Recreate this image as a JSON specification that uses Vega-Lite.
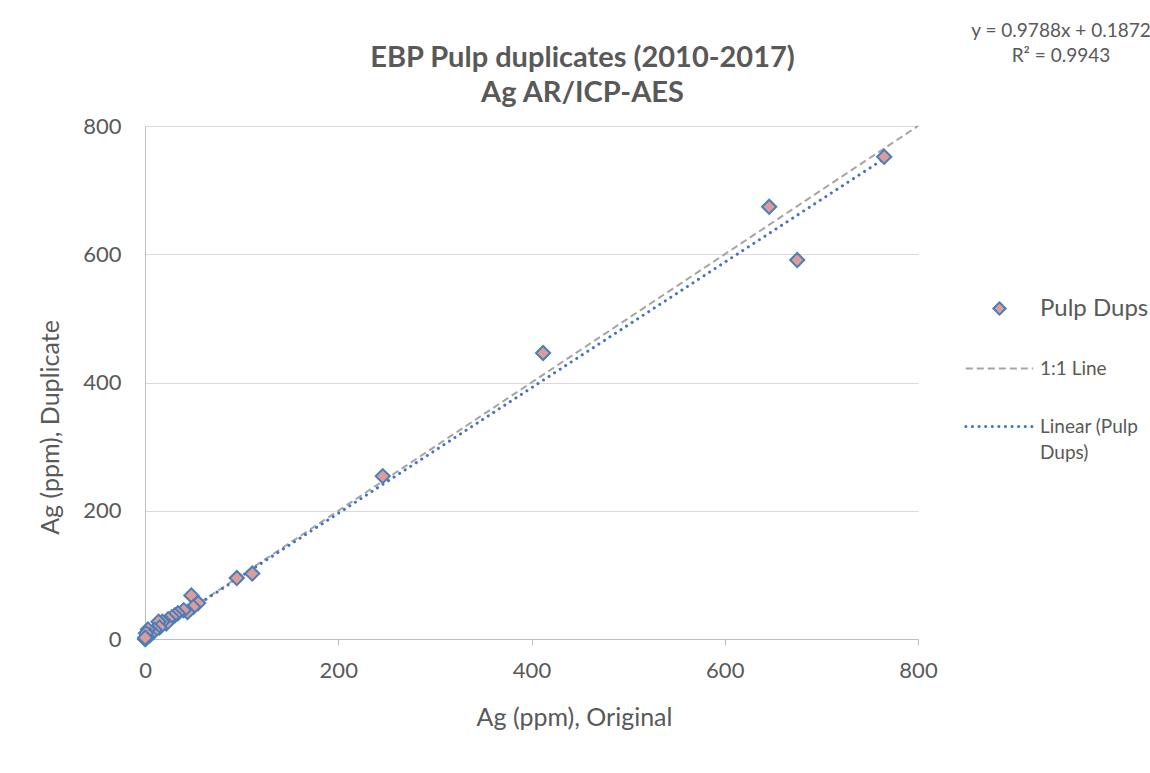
{
  "$schema": "https://vega.github.io/schema/vega-lite/v6.json",
  "width": 773,
  "height": 513,
  "autosize": {"type": "none"},
  "padding": {"left": 145, "top": 126, "right": 232, "bottom": 134},
  "background": "white",
  "title": {
    "text": ["EBP Pulp duplicates (2010-2017)", "Ag AR/ICP-AES"],
    "anchor": "middle",
    "dx": 51,
    "offset": -86,
    "fontSize": 29,
    "font": "Lato",
    "fontWeight": "bold",
    "color": "#595959",
    "lineHeight": 35
  },
  "datasets": {
    "dups": [
      {"orig": 765, "dup": 752, "series": "Pulp Dups"},
      {"orig": 646, "dup": 674, "series": "Pulp Dups"},
      {"orig": 675, "dup": 591, "series": "Pulp Dups"},
      {"orig": 412, "dup": 446, "series": "Pulp Dups"},
      {"orig": 246, "dup": 254, "series": "Pulp Dups"},
      {"orig": 111, "dup": 102, "series": "Pulp Dups"},
      {"orig": 95, "dup": 95, "series": "Pulp Dups"},
      {"orig": 48, "dup": 68, "series": "Pulp Dups"},
      {"orig": 55, "dup": 56, "series": "Pulp Dups"},
      {"orig": 50, "dup": 50, "series": "Pulp Dups"},
      {"orig": 44, "dup": 42, "series": "Pulp Dups"},
      {"orig": 40, "dup": 45, "series": "Pulp Dups"},
      {"orig": 34, "dup": 40, "series": "Pulp Dups"},
      {"orig": 31, "dup": 37, "series": "Pulp Dups"},
      {"orig": 28, "dup": 34, "series": "Pulp Dups"},
      {"orig": 24, "dup": 31, "series": "Pulp Dups"},
      {"orig": 22, "dup": 24, "series": "Pulp Dups"},
      {"orig": 18, "dup": 27, "series": "Pulp Dups"},
      {"orig": 14, "dup": 27, "series": "Pulp Dups"},
      {"orig": 15, "dup": 18, "series": "Pulp Dups"},
      {"orig": 10, "dup": 14, "series": "Pulp Dups"},
      {"orig": 8, "dup": 10, "series": "Pulp Dups"},
      {"orig": 3, "dup": 15, "series": "Pulp Dups"},
      {"orig": 5, "dup": 6, "series": "Pulp Dups"},
      {"orig": 2, "dup": 3, "series": "Pulp Dups"},
      {"orig": 1, "dup": 9, "series": "Pulp Dups"},
      {"orig": 0.5, "dup": 0.5, "series": "Pulp Dups"},
      {"orig": 0, "dup": 0, "series": "Pulp Dups"},
      {"orig": 1, "dup": 1, "series": "Pulp Dups"},
      {"orig": 0.2, "dup": 2, "series": "Pulp Dups"}
    ],
    "oneToOne": [
      {"orig": 0, "dup": 0, "series": "1:1 Line"},
      {"orig": 800, "dup": 800, "series": "1:1 Line"}
    ],
    "trend": [
      {"orig": 0, "dup": 0.19, "series": "Linear (Pulp Dups)"},
      {"orig": 765, "dup": 749, "series": "Linear (Pulp Dups)"}
    ],
    "label": [
      {"orig": 948, "dup": 939, "text": "y = 0.9788x + 0.1872"}
    ]
  },
  "encoding": {
    "x": {
      "field": "orig",
      "type": "quantitative",
      "scale": {"domain": [0, 800], "nice": false, "zero": false},
      "axis": {
        "title": "Ag (ppm), Original",
        "values": [0, 200, 400, 600, 800],
        "grid": false,
        "labelFlush": false,
        "domainColor": "#BFBFBF",
        "tickColor": "#BFBFBF",
        "tickSize": 6,
        "labelPadding": 15,
        "titleX": 429,
        "titleY": 66,
        "titleBaseline": "top"
      }
    },
    "y": {
      "field": "dup",
      "type": "quantitative",
      "scale": {"domain": [0, 800], "nice": false, "zero": false},
      "axis": {
        "title": "Ag (ppm), Duplicate",
        "values": [0, 200, 400, 600, 800],
        "grid": true,
        "labelFlush": false,
        "gridColor": "#D9D9D9",
        "gridWidth": 1,
        "domainColor": "#BFBFBF",
        "ticks": false,
        "tickSize": 0,
        "labelPadding": 24,
        "titleX": -82,
        "titleY": 301,
        "titleBaseline": "bottom"
      }
    },
    "color": {
      "field": "series",
      "type": "nominal",
      "scale": {
        "domain": ["Pulp Dups", "1:1 Line", "Linear (Pulp Dups)"],
        "range": ["#4A7EBB", "#A5A5A5", "#4472C4"]
      },
      "legend": {
        "title": null,
        "orient": "none",
        "legendX": 845,
        "legendY": 173,
        "padding": 0,
        "symbolSize": 150,
        "labelOffset": 31,
        "rowPadding": 38,
        "labelLimit": 300,
        "labelExpr": "datum.label == 'Linear (Pulp Dups)' ? ['Linear (Pulp', 'Dups)'] : datum.label",
        "encode": {
          "symbols": {
            "update": {
              "shape": {"signal": "datum.value === 'Pulp Dups' ? 'diamond' : 'M-5.5,0H5.5'"},
              "size": {"value": 150},
              "fill": {"signal": "datum.value === 'Pulp Dups' ? '#DD9B99' : 'transparent'"},
              "stroke": {"signal": "datum.value === 'Pulp Dups' ? '#4A7EBB' : (datum.value === '1:1 Line' ? '#A5A5A5' : '#4472C4')"},
              "strokeWidth": {"signal": "datum.value === 'Pulp Dups' ? 2 : (datum.value === '1:1 Line' ? 2 : 3)"},
              "strokeDash": {"signal": "datum.value === '1:1 Line' ? [7, 4] : (datum.value === 'Linear (Pulp Dups)' ? [0.1, 6.5] : [])"},
              "strokeCap": {"signal": "datum.value === 'Linear (Pulp Dups)' ? 'round' : 'butt'"},
              "opacity": {"value": 1}
            }
          },
          "labels": {
            "update": {
              "fontSize": {"signal": "datum.value === 'Pulp Dups' ? 24 : 19"},
              "lineHeight": {"value": 26}
            }
          }
        }
      }
    }
  },
  "layer": [
    {
      "data": {"name": "oneToOne"},
      "mark": {"type": "line", "strokeDash": [7, 4], "strokeWidth": 2, "clip": false}
    },
    {
      "data": {"name": "trend"},
      "mark": {"type": "line", "strokeDash": [0.1, 6.5], "strokeCap": "round", "strokeWidth": 3}
    },
    {
      "data": {"name": "dups"},
      "mark": {
        "type": "point",
        "shape": "diamond",
        "size": 200,
        "filled": false,
        "fill": "#DD9B99",
        "strokeWidth": 2,
        "opacity": 1
      }
    },
    {
      "data": {"name": "label"},
      "mark": {
        "type": "text",
        "text": ["y = 0.9788x + 0.1872", "R² = 0.9943"],
        "font": "Lato",
        "fontSize": 19,
        "align": "center",
        "baseline": "alphabetic",
        "lineHeight": 25
      },
      "encoding": {
        "color": {"value": "#595959"}
      }
    }
  ],
  "config": {
    "font": "Lato",
    "view": {"stroke": null},
    "axis": {
      "labelFont": "Lato",
      "labelFontSize": 22,
      "labelColor": "#595959",
      "titleFont": "Lato",
      "titleFontSize": 25,
      "titleFontWeight": "normal",
      "titleColor": "#595959"
    },
    "legend": {
      "labelFont": "Lato",
      "labelColor": "#595959"
    }
  }
}
